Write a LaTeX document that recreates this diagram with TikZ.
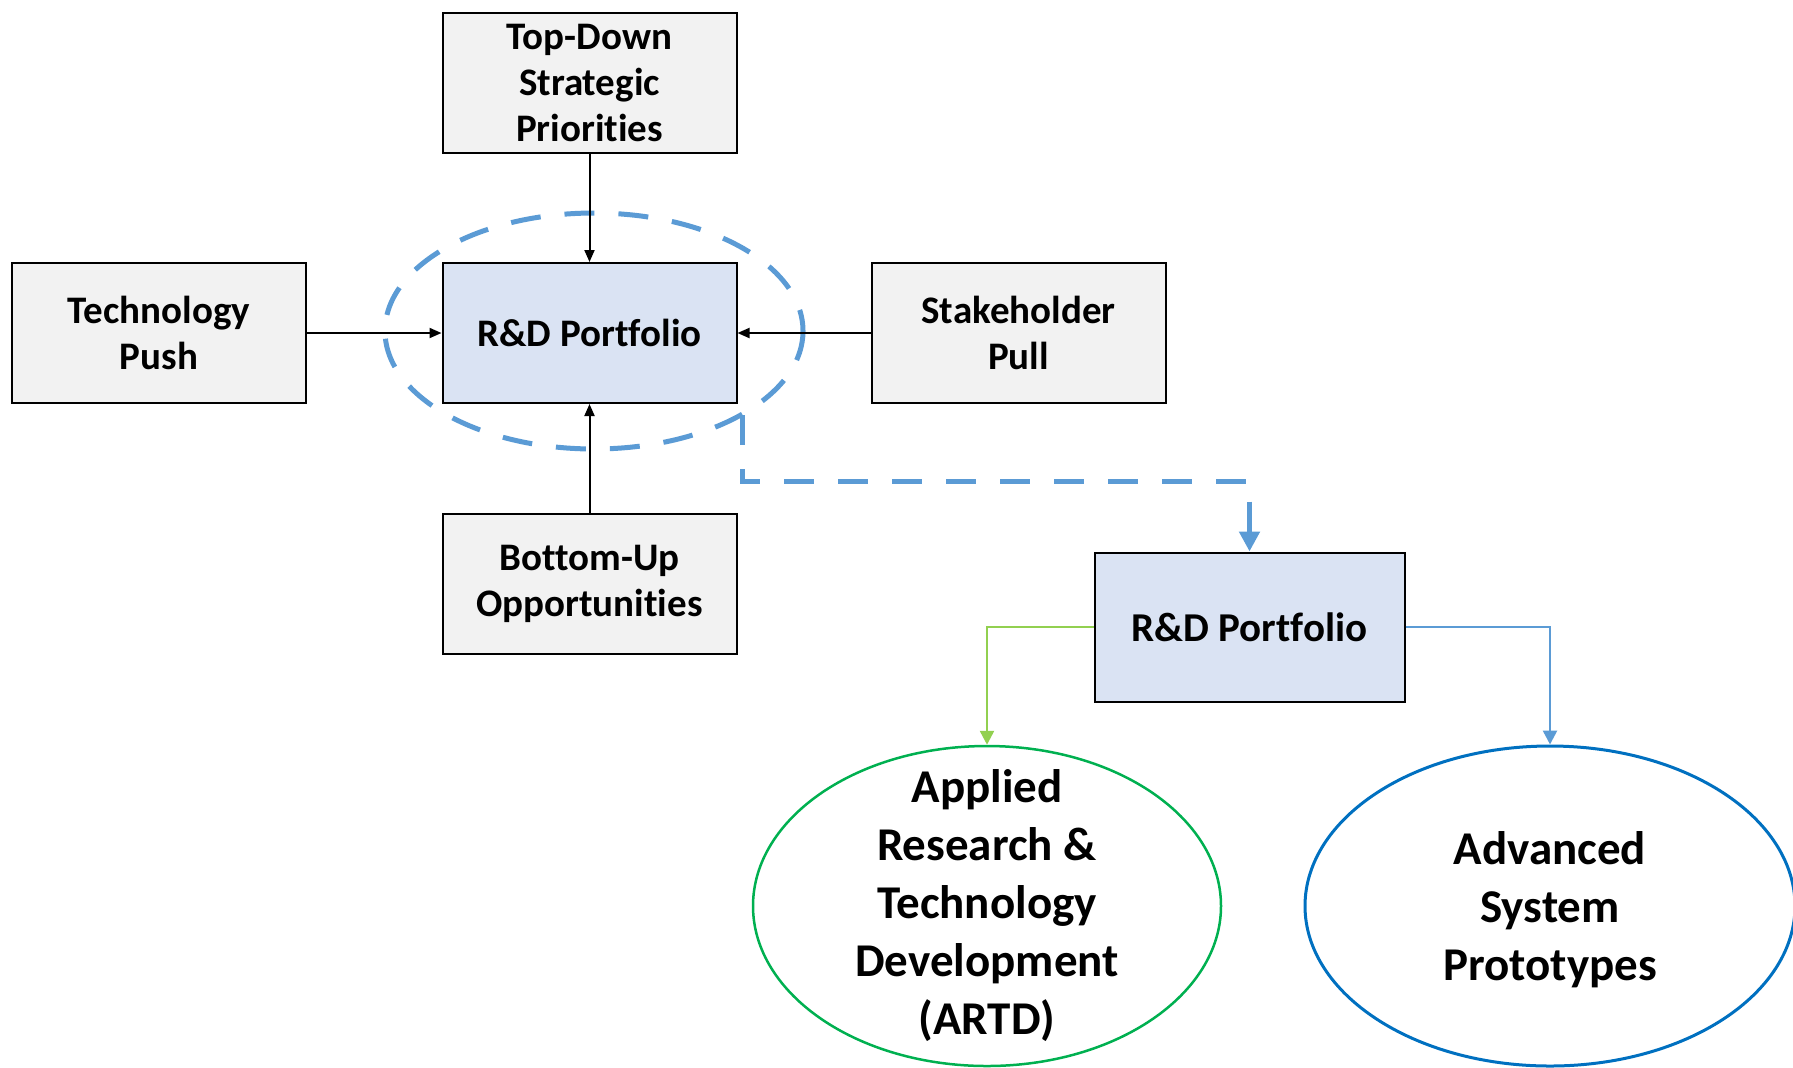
\documentclass[tikz,border=0pt]{standalone}
\usepackage{fontspec}
\setmainfont{Carlito}[Ligatures=NoCommon]
\usetikzlibrary{arrows.meta,shapes.geometric}

\definecolor{boxgray}{HTML}{F2F2F2}
\definecolor{hubblue}{HTML}{DAE3F3}
\definecolor{dashblue}{HTML}{5B9BD5}
\definecolor{linkgreen}{HTML}{92D050}
\definecolor{ringgreen}{HTML}{00B050}
\definecolor{ringblue}{HTML}{0070C0}

\begin{document}
\begin{tikzpicture}[x=0.5pt,y=-0.5pt,
    driver/.style={draw,line width=1pt,fill=boxgray,minimum width=147pt,minimum height=70pt,
        inner sep=0pt,align=center,font={\fontsize{19.5}{23.2}\selectfont\bfseries}},
    hub/.style={driver,fill=hubblue},
    feed/.style={line width=1pt,-{Triangle[length=6pt,width=5pt]}},
    branch/.style={line width=1.25pt,-{Triangle[length=7pt,width=7pt]}},
    ring/.style={ellipse,draw,inner sep=0pt,minimum height=160pt},
    ringtext/.style={align=center,font={\fontsize{23.5}{29}\selectfont\bfseries}}]
    \useasboundingbox (0,0) rectangle (1793,1067);

    % Drivers round the portfolio
    \node[driver] (topdown) at (589.5,83) {Top-Down\\Strategic\\Priorities};
    \node[driver] (push) at (159,333) {Technology\\Push};
    \node[hub] (hub) at (589.5,333) {R\&D Portfolio};
    \node[driver] (pull) at (1018.5,333) {Stakeholder\\Pull};
    \node[driver] (bottomup) at (589.5,584) {Bottom-Up\\Opportunities};

    % Dashed ring round the portfolio
    \draw[dashblue,line width=2.5pt,dash pattern=on 15pt off 12pt] (594,331) ellipse [x radius=209,y radius=118];

    \draw[feed] (topdown) -- (hub);
    \draw[feed] (push) -- (hub);
    \draw[feed] (pull) -- (hub);
    \draw[feed] (bottomup) -- (hub);

    % Portfolio split
    \node[hub,minimum width=155pt,minimum height=74.5pt,font={\fontsize{20.5}{24}\selectfont\bfseries}] (split) at (1249.5,627) {R\&D Portfolio};
    \coordinate (ringout) at (742,415);
    \coordinate (turn) at (742,481);
    \draw[dashblue,line width=2.5pt,dash pattern=on 15pt off 12pt,-{Triangle[length=10pt,width=10pt]}] (ringout) -- (turn) -| (split.north);

    % Two branches
    \node[ring,ringgreen,line width=1.25pt,minimum width=234pt] (artd) at (987,906) {};
    \node[ringtext] (artdtext) at (artd.center) {Applied\\Research \&\\Technology\\Development\\(ARTD)};
    \node[ring,ringblue,line width=1.5pt,minimum width=245pt] (proto) at (1550,906) {};
    \node[ringtext] (prototext) at ([yshift=-2pt]proto.center) {Advanced\\System\\Prototypes};

    \draw[branch,linkgreen] (split.west) -| (artd.north);
    \draw[branch,dashblue] (split.east) -| (proto.north);
\end{tikzpicture}
\end{document}
